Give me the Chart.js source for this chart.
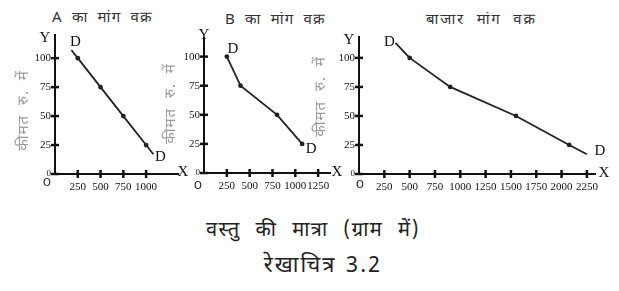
<!DOCTYPE html>
<html lang="hi">
<head>
<meta charset="utf-8">
<script src="https://cdn.jsdelivr.net/npm/chart.js@4.4.0/dist/chart.umd.min.js"></script>
<style>
  html, body { margin: 0; padding: 0; background: #fff; }
  body { width: 619px; height: 291px; position: relative; overflow: hidden;
         font-family: "Noto Sans Devanagari", "Lohit Devanagari", "Noto Sans", sans-serif; }
  canvas { position: absolute; top: 0; }
  .ttl { position: absolute; font-size: 15px; color: #333; white-space: nowrap; line-height: 1;
         letter-spacing: 1.2px; word-spacing: 4px; }
  .cap { position: absolute; left: 0; width: 626px; text-align: center; font-size: 20px; color: #222;
         line-height: 1; letter-spacing: 1.5px; word-spacing: 8px; }
</style>
</head>
<body>
<div class="ttl" style="left:52px; top:11px;">A का मांग वक्र</div>
<div class="ttl" style="left:225px; top:13px;">B का मांग वक्र</div>
<div class="ttl" style="left:426px; top:13px; letter-spacing:1.8px; word-spacing:6px;">बाजार मांग वक्र</div>

<canvas id="chartA" width="200" height="200" style="left:0px"></canvas>
<canvas id="chartB" width="200" height="200" style="left:150px"></canvas>
<canvas id="chartM" width="319" height="200" style="left:300px"></canvas>

<div class="cap" style="top:221px;">वस्तु की मात्रा (ग्राम में)</div>
<div class="cap" style="top:256px; left:10px; font-size:22px; letter-spacing: 2px; word-spacing: 2px;">रेखाचित्र 3.2</div>

<script>
// ====== DADOS ======
const priceA = [107, 100, 75, 50, 25, 17];
const qtyA = [180, 250, 500, 750, 1000, 1080];

const priceB = [100, 75, 50, 25];
const qtyB = [250, 400, 800, 1075];

const priceM = [113, 100, 75, 50, 25, 17];
const qtyM = [360, 500, 900, 1550, 2075, 2250];

const yTicks = [0, 25, 50, 75, 100];
const xTicksA = [250, 500, 750, 1000];
const xTicksB = [250, 500, 750, 1000, 1250];
const xTicksM = [250, 500, 750, 1000, 1250, 1500, 1750, 2000, 2250];

const yTitle = "कीमत रु. में";
const tickFont = { family: "Liberation Serif", size: 11 };
const zeroFont = { family: "Liberation Serif", size: 9 };

// marcas, letras D / X / Y / O e título do eixo y
const extrasPlugin = {
  id: "extras",
  afterDraw(chart) {
    const cfg = chart.options.plugins.extras;
    const ctx = chart.ctx;
    const a = chart.chartArea;
    const xs = chart.scales.x;
    const ys = chart.scales.y;
    ctx.save();
    ctx.strokeStyle = "#111";
    ctx.lineWidth = 2.5;
    xs.ticks.forEach((t) => {
      const px = xs.getPixelForValue(t.value);
      ctx.beginPath();
      ctx.moveTo(px, a.bottom - 4);
      ctx.lineTo(px, a.bottom + 4);
      ctx.stroke();
    });
    ys.ticks.forEach((t) => {
      const py = ys.getPixelForValue(t.value);
      ctx.beginPath();
      ctx.moveTo(a.left - 4, py);
      ctx.lineTo(a.left + 4, py);
      ctx.stroke();
    });

    ctx.fillStyle = "#111";
    ctx.textAlign = "center";
    ctx.textBaseline = "middle";
    ctx.font = "15px 'Liberation Serif'";
    ctx.fillText("Y", a.left + cfg.yLab[0], a.top + cfg.yLab[1]);
    ctx.fillText("X", a.right + cfg.xLab[0], a.bottom + cfg.xLab[1]);

    const pts = chart.getDatasetMeta(0).data;
    const p0 = pts[0];
    const p1 = pts[pts.length - 1];
    ctx.fillText("D", p0.x + cfg.dStart[0], p0.y + cfg.dStart[1]);
    ctx.fillText("D", p1.x + cfg.dEnd[0], p1.y + cfg.dEnd[1]);

    ctx.font = "10px 'DejaVu Sans'";
    ctx.fillText("O", a.left + cfg.oLab[0], a.bottom + cfg.oLab[1]);

    ctx.translate(a.left + cfg.yTitle[0], (a.top + a.bottom) / 2 + cfg.yTitle[1]);
    ctx.rotate(-Math.PI / 2);
    ctx.fillStyle = "#9a9a9a";
    ctx.font = "15px 'Noto Sans Devanagari', 'Lohit Devanagari', sans-serif";
    ctx.letterSpacing = "1px";
    ctx.wordSpacing = "5px";
    ctx.fillText(yTitle, 0, 0);
    ctx.restore();
  },
};

function makeChart(id, qty, price, xTicks, cfg) {
  const pts = qty.map((q, i) => ({ x: q, y: price[i] }));
  return new Chart(document.getElementById(id), {
    type: "scatter",
    data: {
      datasets: [
        {
          data: pts,
          showLine: true,
          borderColor: "#222",
          backgroundColor: "#222",
          borderWidth: 1.8,
          pointRadius: (c) => (price[c.dataIndex] % 25 === 0 ? 1.5 : 0),
          pointHoverRadius: 0,
        },
      ],
    },
    options: {
      responsive: false,
      animation: false,
      events: [],
      layout: { padding: { left: 0, top: cfg.top, right: cfg.right, bottom: 0 } },
      plugins: {
        legend: { display: false },
        tooltip: { enabled: false },
        extras: cfg,
      },
      scales: {
        x: {
          type: "linear",
          min: 0,
          max: cfg.xMax,
          afterBuildTicks: (s) => { s.ticks = xTicks.map((v) => ({ value: v })); },
          afterFit: (s) => { s.height = cfg.xH; },
          grid: { drawOnChartArea: false, drawTicks: false },
          border: { display: true, color: "#111", width: 2 },
          ticks: {
            autoSkip: false, maxRotation: 0, padding: 7, color: "#111", font: tickFont,
            callback: (v) => String(v),
          },
        },
        y: {
          min: 0,
          max: cfg.yMax,
          afterBuildTicks: (s) => { s.ticks = yTicks.map((v) => ({ value: v })); },
          afterFit: (s) => { s.width = cfg.yW; },
          grid: { drawOnChartArea: false, drawTicks: false },
          border: { display: true, color: "#111", width: 2 },
          ticks: {
            autoSkip: false, padding: 4, color: "#111",
            font: (c) => (c.index === 0 ? zeroFont : tickFont),
            callback: (v) => String(v),
          },
        },
      },
    },
    plugins: [extrasPlugin],
  });
}

makeChart("chartA", qtyA, priceA, xTicksA, {
  top: 35, right: 22, yW: 55, xH: 26, xMax: 1350, yMax: 120,
  yLab: [-10, 3], xLab: [5, -2], oLab: [-8, 9],
  dStart: [4, -8], dEnd: [7, 3], yTitle: [-30, 6],
});

makeChart("chartB", qtyB, priceB, xTicksB, {
  top: 38, right: 20, yW: 54, xH: 27, xMax: 1380, yMax: 116,
  yLab: [0, -3], xLab: [7, -1], oLab: [-6, 13],
  dStart: [6, -8], dEnd: [9, 5], yTitle: [-32, -2],
});

makeChart("chartM", qtyM, priceM, xTicksM, {
  top: 37, right: 24, yW: 59, xH: 26, xMax: 2330, yMax: 118,
  yLab: [-10, 3], xLab: [9, -1], oLab: [1, 11],
  dStart: [-6, -1], dEnd: [13, -3], yTitle: [-37, -9],
});
</script>
</body>
</html>
